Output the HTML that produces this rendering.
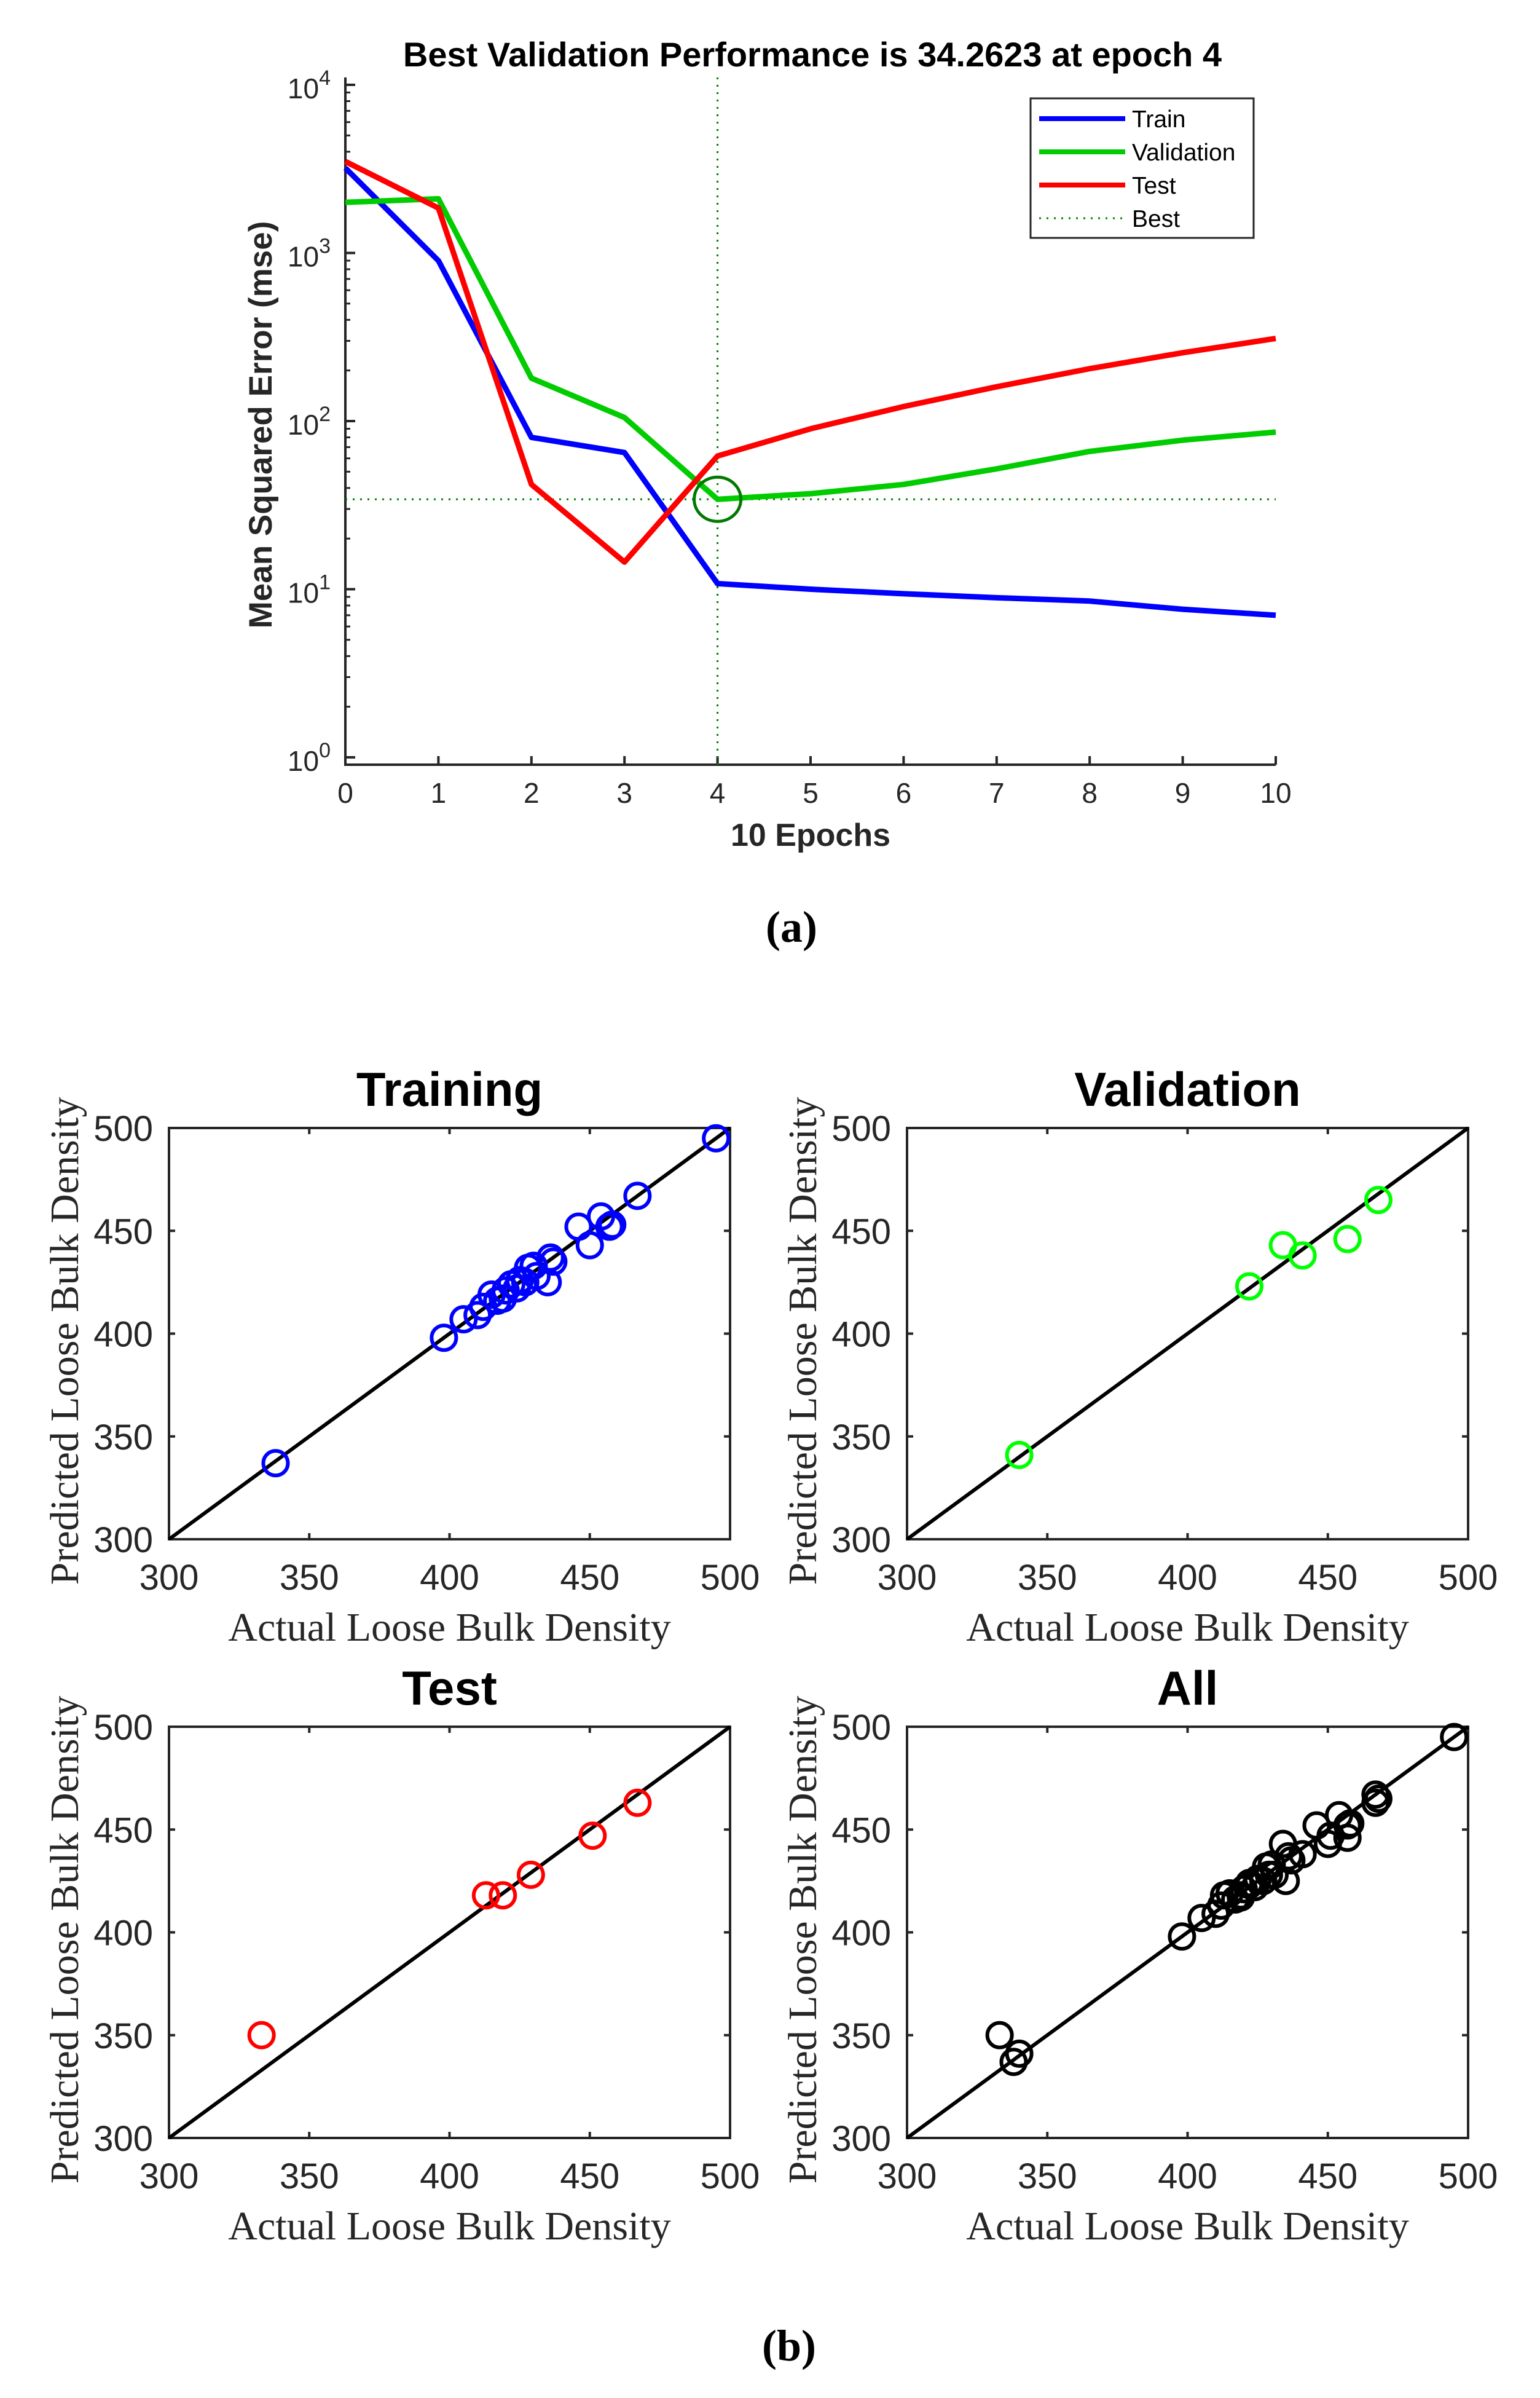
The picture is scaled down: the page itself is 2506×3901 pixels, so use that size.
<!DOCTYPE html>
<html><head><meta charset="utf-8">
<style>
html,body{margin:0;padding:0;background:#fff;}
svg{display:block;}
.sans{font-family:"Liberation Sans",Arial,sans-serif;}
.serif{font-family:"Liberation Serif","Times New Roman",serif;}
</style></head>
<body>
<svg id="fig" width="2506" height="3901" viewBox="0 0 2506 3901" xmlns="http://www.w3.org/2000/svg">
<rect x="0" y="0" width="2506" height="3901" fill="#fff"/>
</svg>
<script>
// ---- Performance chart data ----
const epochs = [0,1,2,3,4,5,6,7,8,9,10];
const trainMse = [3200,900,80,65,10.8,10,9.4,8.9,8.5,7.6,7.0];
const valMse = [2000,2100,180,105,34.2623,37,42,52,66,77,86];
const testMse = [3500,1850,42,14.5,62,90,122,160,205,255,310];
const bestEpoch = 4;
const bestValue = 34.2623;
const xTickLabels = ['0','1','2','3','4','5','6','7','8','9','10'];
const yDecades = [0,1,2,3,4];
// ---- Regression data ----
const trainActual = [338,398,405,410,412,415,417,419,420,422,424,425,427,428,430,431,435,436,437,446,450,454,457,458,467,495];
const trainPred   = [337,398,407,409,413,419,416,417,421,424,422,426,425,432,433,428,425,437,435,452,443,457,452,453,467,495];
const valActual = [340,422,434,441,457,468];
const valPred   = [341,423,443,438,446,465];
const testActual = [333,413,419,429,451,467];
const testPred   = [350,418,418,428,447,463];
const regTicks = [300,350,400,450,500];

const NS='http://www.w3.org/2000/svg';
const svg=document.getElementById('fig');
function mk(tag,attrs,parent){const e=document.createElementNS(NS,tag);for(const k in attrs)e.setAttribute(k,attrs[k]);(parent||svg).appendChild(e);return e;}
function txt(s,attrs,parent){const e=mk('text',attrs,parent);e.textContent=s;return e;}

// ===== Panel (a) =====
const PL=562,PR=2076,PT=126,PB=1244,Y4=138,Y0=1232;
const px=v=>PL+(v-0)/(10-0)*(PR-PL);
const py=v=>Y0-(Math.log10(v)-0)/4*(Y0-Y4);
const gA=mk('g',{});


const t=txt('Best Validation Performance is 34.2623 at epoch 4',{x:1322,y:108,'text-anchor':'middle','font-size':56,'font-weight':'bold',class:'sans'},gA);

const ax=mk('path',{d:`M${PL},${PT} L${PL},${PB} L${PR},${PB}`,stroke:'#262626','stroke-width':4,fill:'none'},gA);

epochs.forEach((e,i)=>{
  mk('line',{x1:px(e),x2:px(e),y1:PB,y2:PB-14,stroke:'#262626','stroke-width':4},gA);
  const l=txt(xTickLabels[i],{x:px(e),y:PB+62,'text-anchor':'middle','font-size':46,fill:'#262626',class:'sans'},gA);
  
});
yDecades.forEach(d=>{
  const y=py(Math.pow(10,d));
  mk('line',{x1:PL,x2:PL+16,y1:y,y2:y,stroke:'#262626','stroke-width':4},gA);
  if(d<4){for(let m=2;m<10;m++){const ym=py(m*Math.pow(10,d));mk('line',{x1:PL,x2:PL+8,y1:ym,y2:ym,stroke:'#262626','stroke-width':3},gA);}}
  const l=txt('',{x:538,y:y+22,'text-anchor':'end','font-size':46,fill:'#262626',class:'sans'},gA);
  
  const a=mk('tspan',{},l);a.textContent='10';
  const b=mk('tspan',{dy:-22,'font-size':34},l);b.textContent=String(d);
});
const hv=mk('line',{x1:PL,x2:PR,y1:py(bestValue),y2:py(bestValue),stroke:'#008000','stroke-width':3,'stroke-dasharray':'3 9'},gA);

const vv=mk('line',{x1:px(bestEpoch),x2:px(bestEpoch),y1:PT,y2:PB,stroke:'#008000','stroke-width':3,'stroke-dasharray':'3 9'},gA);

function series(vals,color,name){
  const d=vals.map((v,i)=>(i?'L':'M')+px(epochs[i])+','+py(v)).join(' ');
  const p=mk('path',{d:d,stroke:color,'stroke-width':9,fill:'none','stroke-linejoin':'round'},gA);
  
}
series(trainMse,'#0000ff','train-line');
series(valMse,'#00cc00','validation-line');
series(testMse,'#ff0000','test-line');
const bc=mk('ellipse',{cx:px(bestEpoch),cy:py(bestValue),rx:38,ry:36,stroke:'#007a00','stroke-width':5,fill:'none'},gA);

const yl=txt('Mean Squared Error  (mse)',{x:0,y:0,transform:`translate(442,${(PT+PB)/2+6}) rotate(-90)`,'text-anchor':'middle','font-size':53,'font-weight':'bold',fill:'#262626',class:'sans'},gA);

const xl=txt('10 Epochs',{x:(PL+PR)/2,y:1376,'text-anchor':'middle','font-size':52,'font-weight':'bold',fill:'#262626',class:'sans'},gA);

const lg=mk('g',{},gA);

mk('rect',{x:1677,y:160,width:363,height:227,fill:'#fff',stroke:'#262626','stroke-width':3},lg);
const legItems=[['Train','#0000ff',193,false],['Validation','#00cc00',247,false],['Test','#ff0000',301,false],['Best','#008000',355,true]];
legItems.forEach(it=>{
  const g=mk('g',{},lg);
  
  mk('line',Object.assign({x1:1691,x2:1831,y1:it[2],y2:it[2],stroke:it[1],'stroke-width':it[3]?3:8},it[3]?{'stroke-dasharray':'3 9'}:{}),g);
  txt(it[0],{x:1842,y:it[2]+14,'font-size':39,class:'sans'},g);
});
const la=txt('(a)',{x:1288,y:1532,'text-anchor':'middle','font-size':72,'font-weight':'bold',class:'serif'});


// ===== Panel (b) =====
function regPlot(left,top,title,xs,ys,color,name){
  const W=913,H=669,right=left+W,bottom=top+H;
  const sx=v=>left+(v-300)/200*W, sy=v=>bottom-(v-300)/200*H;
  const g=mk('g',{});
  
  const tt=txt(title,{x:left+W/2,y:top-36,'text-anchor':'middle','font-size':78,'font-weight':'bold',class:'sans'},g);
  
  mk('rect',{x:left,y:top,width:W,height:H,fill:'none',stroke:'#262626','stroke-width':4},g);
  regTicks.forEach(v=>{
    mk('line',{x1:sx(v),x2:sx(v),y1:bottom,y2:bottom-10,stroke:'#262626','stroke-width':4},g);
    mk('line',{x1:sx(v),x2:sx(v),y1:top,y2:top+10,stroke:'#262626','stroke-width':4},g);
    mk('line',{x1:left,x2:left+10,y1:sy(v),y2:sy(v),stroke:'#262626','stroke-width':4},g);
    mk('line',{x1:right,x2:right-10,y1:sy(v),y2:sy(v),stroke:'#262626','stroke-width':4},g);
    const a=txt(String(v),{x:sx(v),y:bottom+82,'text-anchor':'middle','font-size':58,fill:'#262626',class:'sans'},g);
    
    const b=txt(String(v),{x:left-26,y:sy(v)+21,'text-anchor':'end','font-size':58,fill:'#262626',class:'sans'},g);
    
  });
  const fit=mk('line',{x1:sx(300),y1:sy(300),x2:sx(500),y2:sy(500),stroke:'#000','stroke-width':6},g);
  
  xs.forEach((x,i)=>{
    const c=mk('circle',{cx:sx(x),cy:sy(ys[i]),r:20,fill:'none',stroke:color,'stroke-width':6},g);
    
  });
  const xl=txt('Actual Loose Bulk Density',{x:left+W/2,y:bottom+165,'text-anchor':'middle','font-size':66,fill:'#262626',class:'serif'},g);
  
  const yl=txt('Predicted Loose Bulk Density',{x:0,y:0,transform:`translate(${left-148},${top+H/2+12}) rotate(-90)`,'text-anchor':'middle','font-size':66,fill:'#262626',class:'serif'},g);
  
}
regPlot(275,1835,'Training',trainActual,trainPred,'#0000ff','training-plot');
regPlot(1476,1835,'Validation',valActual,valPred,'#00ff00','validation-plot');
regPlot(275,2809,'Test',testActual,testPred,'#ff0000','test-plot');
regPlot(1476,2809,'All',trainActual.concat(valActual,testActual),trainPred.concat(valPred,testPred),'#000000','all-plot');
const lb=txt('(b)',{x:1284,y:3840,'text-anchor':'middle','font-size':72,'font-weight':'bold',class:'serif'});

</script>
</body></html>
